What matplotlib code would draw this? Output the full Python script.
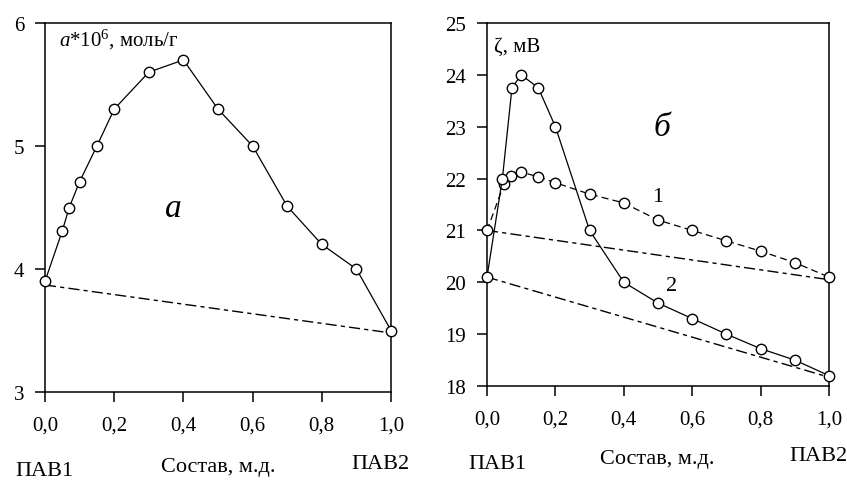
import matplotlib
matplotlib.use('Agg')
from matplotlib import pyplot as plt

plt.rcParams['font.family'] = ['Liberation Serif', 'DejaVu Serif']
plt.rcParams['mathtext.fontset'] = 'custom'
plt.rcParams['mathtext.rm'] = 'Liberation Serif'
plt.rcParams['mathtext.it'] = 'Liberation Serif:italic'
plt.rcParams['lines.scale_dashes'] = False

# panel a: adsorption, a*10^6 mol/g
xa = [0.0, 0.05, 0.07, 0.1, 0.15, 0.2, 0.3, 0.4, 0.5, 0.6, 0.7, 0.8, 0.9, 1.0]
ya = [3.9, 4.31, 4.5, 4.71, 5.0, 5.3, 5.6, 5.7, 5.3, 5.0, 4.51, 4.2, 4.0, 3.5]
xa_add = [0.0, 1.0]
ya_add = [3.87, 3.48]

# panel b: zeta potential, mV
xb1 = [0.0, 0.05, 0.07, 0.1, 0.15, 0.2, 0.3, 0.4, 0.5, 0.6, 0.7, 0.8, 0.9, 1.0]
yb1 = [21.0, 21.9, 22.05, 22.13, 22.03, 21.92, 21.7, 21.53, 21.2, 21.0, 20.8, 20.6, 20.38, 20.1]
xb2 = [0.0, 0.045, 0.073, 0.1, 0.15, 0.2, 0.3, 0.4, 0.5, 0.6, 0.7, 0.8, 0.9, 1.0]
yb2 = [20.1, 22.0, 23.75, 24.0, 23.75, 23.0, 21.0, 20.0, 19.6, 19.3, 19.0, 18.72, 18.5, 18.2]
xb_add = [0.0, 1.0]
yb1_add = [21.0, 20.05]
yb2_add = [20.1, 18.17]

xtk = [0.0, 0.2, 0.4, 0.6, 0.8, 1.0]
xtk_lab = ['0,0', '0,2', '0,4', '0,6', '0,8', '1,0']

W, H = 847, 485
fig = plt.figure(figsize=(W / 100, H / 100), dpi=100)

tickSize = 15
capSize = 16
dash_ld = (8, 3, 3, 3)
mk = dict(marker='o', markersize=7.5, markerfacecolor='white', markeredgecolor='black',
          markeredgewidth=1.0, clip_on=False, zorder=3)


def px_ax(x0, y0, x1, y1):
    return fig.add_axes([x0 / W, 1 - y1 / H, (x1 - x0) / W, (y1 - y0) / H])


def style(ax):
    for s in ax.spines.values():
        s.set_linewidth(1.1)
    ax.tick_params(direction='out', length=7, width=1.1, labelsize=tickSize)
    ax.tick_params(axis='x', pad=10)
    ax.tick_params(axis='y', pad=8)
    ax.set_xlim(0, 1)
    ax.set_xticks(xtk)
    ax.set_xticklabels(xtk_lab)


# ---- panel a
ax1 = px_ax(45, 24, 391, 393)
style(ax1)
ax1.set_ylim(3, 6)
ax1.set_yticks([3, 4, 5, 6])
ax1.plot(xa_add, ya_add, color='black', linewidth=1.0, dashes=dash_ld)
ax1.plot(xa, ya, color='black', linewidth=0.9, **mk)
ax1.text(0.04, 5.87, r'$\it{a}$*10$^{6}$, моль/г', fontsize=capSize - 1, va='center')
ax1.text(0.37, 4.5, 'а', fontsize=24, style='italic', ha='center', va='center')

# ---- panel b
ax2 = px_ax(487, 24, 829, 387)
style(ax2)
ax2.set_ylim(18, 25)
ax2.set_yticks(range(18, 26))
ax2.plot(xb_add, yb1_add, color='black', linewidth=1.0, dashes=dash_ld)
ax2.plot(xb_add, yb2_add, color='black', linewidth=1.0, dashes=dash_ld)
ax2.plot(xb1, yb1, color='black', linewidth=0.9, dashes=(5, 3), **mk)
ax2.plot(xb2, yb2, color='black', linewidth=0.9, **mk)
ax2.text(0.02, 24.55, 'ζ, мВ', fontsize=capSize - 1, va='center')
ax2.text(0.51, 23.0, 'б', fontsize=24, style='italic', ha='center', va='center')
ax2.text(0.5, 21.65, '1', fontsize=capSize, ha='center', va='center')
ax2.text(0.54, 19.93, '2', fontsize=capSize, ha='center', va='center')

# bottom captions
for x, y, s in [(44, 472, 'ПАВ1'), (218, 468, 'Состав, м.д.'), (380, 465, 'ПАВ2'),
                (497, 465, 'ПАВ1'), (657, 460, 'Состав, м.д.'), (818, 457, 'ПАВ2')]:
    fig.text(x / W, 1 - y / H, s, fontsize=capSize, ha='center', va='center')

plt.savefig('out.png', dpi=100)
